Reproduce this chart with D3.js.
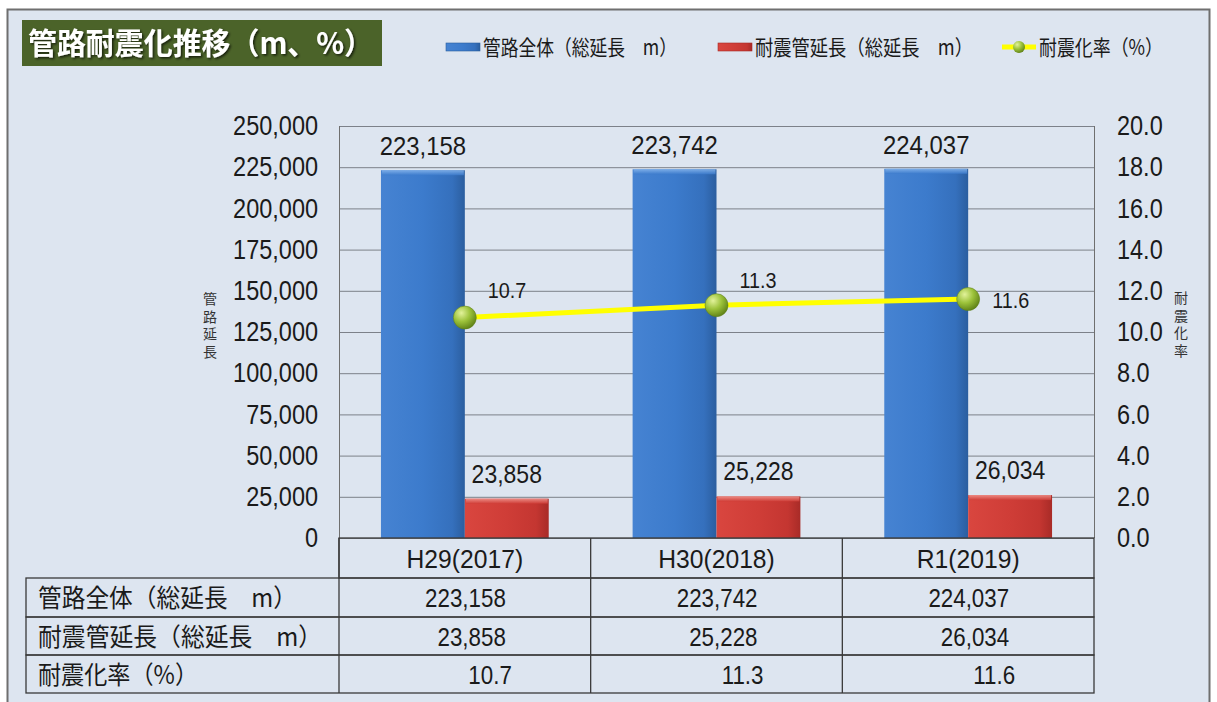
<!DOCTYPE html>
<html><head><meta charset="utf-8">
<script src="https://cdn.jsdelivr.net/npm/d3@7"></script>
<style>
html,body{margin:0;padding:0;background:#fff;}
svg{display:block;}
</style></head>
<body>
<svg id="c" width="1217" height="702"></svg>
<script>
const categories = ["H29(2017)", "H30(2018)", "R1(2019)"];
const totalLength = [223158, 223742, 224037];
const seismicLength = [23858, 25228, 26034];
const seismicRate = [10.7, 11.3, 11.6];
const seriesNames = ["管路全体（総延長　m）", "耐震管延長（総延長　m）", "耐震化率（%）"];
const leftTicks = [0, 25000, 50000, 75000, 100000, 125000, 150000, 175000, 200000, 225000, 250000];
const rightTicks = [0, 2, 4, 6, 8, 10, 12, 14, 16, 18, 20];
const titleText = "管路耐震化推移（m、%）";
const leftAxisTitle = "管路延長";
const rightAxisTitle = "耐震化率";

const NUMF = "'Liberation Sans',Arial,sans-serif";
const JPF = "'Noto Sans CJK JP',sans-serif";
const TXT = "#1a1a1a";
const svg = d3.select("#c");
const defs = svg.append("defs");

function linGrad(id, stops, x2, y2) {
  const g = defs.append("linearGradient").attr("id", id).attr("x1", 0).attr("y1", 0).attr("x2", x2).attr("y2", y2);
  stops.forEach(s => g.append("stop").attr("offset", s[0]).attr("stop-color", s[1]));
}
linGrad("gBlue", [[0, "#4683d2"], [0.5, "#3c7bcc"], [0.85, "#3570bd"], [1, "#2b5e9f"]], 1, 0);
linGrad("gRed", [[0, "#d9463f"], [0.5, "#cf3d37"], [0.85, "#c43631"], [1, "#a82b27"]], 1, 0);
linGrad("gBlueTop", [[0, "#86b5ec"], [1, "#3c7bcc"]], 0, 1);
linGrad("gRedTop", [[0, "#f19790"], [1, "#cf3d37"]], 0, 1);
const rg = defs.append("radialGradient").attr("id", "gDot").attr("cx", 0.35).attr("cy", 0.3).attr("r", 0.75);
rg.append("stop").attr("offset", 0).attr("stop-color", "#e2f29a");
rg.append("stop").attr("offset", 0.5).attr("stop-color", "#9cc23a");
rg.append("stop").attr("offset", 1).attr("stop-color", "#5d7f16");
const sh = defs.append("filter").attr("id", "tshadow").attr("x", -0.1).attr("y", -0.2).attr("width", 1.2).attr("height", 1.4);
sh.append("feDropShadow").attr("dx", 1.5).attr("dy", 1.5).attr("stdDeviation", 0.8).attr("flood-color", "#000").attr("flood-opacity", 0.7);

// condensed text helper
function ctext(parent, x, y, str, o) {
  return parent.append("text")
    .attr("transform", `translate(${x},${y}) scale(${o.sx || 1},1)`)
    .attr("text-anchor", o.anchor || "start")
    .attr("font-family", o.family || NUMF).attr("font-size", o.size).attr("fill", TXT)
    .text(str);
}

// background
svg.append("rect").attr("x", 0).attr("y", 0).attr("width", 1217).attr("height", 702).attr("fill", "#ffffff");
svg.append("rect").attr("x", 7.5).attr("y", 9.5).attr("width", 1202).attr("height", 700)
  .attr("fill", "#dde5f0").attr("stroke", "#6f6f6f").attr("stroke-width", 2);

// title
svg.append("rect").attr("x", 22).attr("y", 20).attr("width", 360).attr("height", 46).attr("fill", "#4b6329");
svg.append("text").attr("x", 28).attr("y", 54).attr("fill", "#ffffff")
  .attr("font-family", JPF).attr("font-size", 30).attr("font-weight", 700)
  .attr("textLength", 345).attr("lengthAdjust", "spacingAndGlyphs")
  .attr("filter", "url(#tshadow)").text(titleText);

// scales
const plotL = 339, plotR = 1094, plotT = 126, plotB = 538;
const x = d3.scaleBand().domain(categories).range([plotL, plotR]).paddingInner(0).paddingOuter(0);
const yL = d3.scaleLinear().domain([0, 250000]).range([plotB, plotT]);
const yR = d3.scaleLinear().domain([0, 20]).range([plotB, plotT]);
const barW = x.bandwidth() / 3;

// grid
svg.append("g").selectAll("line").data(leftTicks).join("line")
  .attr("x1", plotL).attr("x2", plotR).attr("y1", d => yL(d) + 0.5).attr("y2", d => yL(d) + 0.5)
  .attr("stroke", "#7c8189").attr("stroke-width", 1);
svg.append("line").attr("x1", plotL + 0.5).attr("x2", plotL + 0.5).attr("y1", plotT).attr("y2", plotB).attr("stroke", "#6f6f6f");
svg.append("line").attr("x1", plotR + 0.5).attr("x2", plotR + 0.5).attr("y1", plotT).attr("y2", plotB).attr("stroke", "#6f6f6f");

// axes
const tsx = 0.87;
const axL = d3.axisLeft(yL).tickValues(leftTicks).tickSize(0).tickPadding(21).tickFormat(d3.format(","));
const gL = svg.append("g").attr("transform", `translate(${plotL},0)`).call(axL);
gL.select(".domain").remove();
gL.selectAll("text").attr("font-family", NUMF).attr("font-size", 27).attr("fill", TXT)
  .attr("x", -21 / tsx).attr("transform", `scale(${tsx},1)`);
const axR = d3.axisRight(yR).tickValues(rightTicks).tickSize(0).tickPadding(23).tickFormat(d3.format(".1f"));
const gR = svg.append("g").attr("transform", `translate(${plotR},0)`).call(axR);
gR.select(".domain").remove();
gR.selectAll("text").attr("font-family", NUMF).attr("font-size", 27).attr("fill", TXT)
  .attr("x", 23 / tsx).attr("transform", `scale(${tsx},1)`);

// axis titles (vertical)
function vtitle(str, cx, ytop) {
  svg.append("text").attr("x", cx).attr("y", ytop)
    .attr("font-family", JPF).attr("font-size", 14).attr("fill", "#333")
    .style("writing-mode", "vertical-rl").style("letter-spacing", "3.5px")
    .text(str);
}
vtitle(leftAxisTitle, 210, 292);
vtitle(rightAxisTitle, 1181, 291);

// bars
function bar3d(g, x0, w, y0, fill, topFill) {
  const h = plotB - y0;
  g.append("rect").attr("x", x0).attr("y", y0).attr("width", w).attr("height", h).attr("fill", fill);
  g.append("rect").attr("x", x0 + 1).attr("y", y0).attr("width", w - 2).attr("height", Math.min(5, h)).attr("fill", topFill).attr("opacity", 0.85);
}
const gBars = svg.append("g");
categories.forEach((c, i) => {
  const bx = x(c) + barW / 2;
  bar3d(gBars, bx, barW, yL(totalLength[i]), "url(#gBlue)", "url(#gBlueTop)");
  bar3d(gBars, bx + barW, barW, yL(seismicLength[i]), "url(#gRed)", "url(#gRedTop)");
});

// bar labels
const fmt = d3.format(",");
const gLab = svg.append("g");
categories.forEach((c, i) => {
  ctext(gLab, x(c) + barW, yL(totalLength[i]) - 15, fmt(totalLength[i]), { size: 26, sx: 0.92, anchor: "middle" });
  ctext(gLab, x(c) + barW * 2, yL(seismicLength[i]) - 16, fmt(seismicLength[i]), { size: 25, sx: 0.92, anchor: "middle" });
});

// line
const cx = c => x(c) + x.bandwidth() / 2;
const line = d3.line().x((d, i) => cx(categories[i])).y(d => yR(d));
svg.append("path").datum(seismicRate).attr("d", line).attr("fill", "none").attr("stroke", "#ffff00").attr("stroke-width", 5);
svg.append("g").selectAll("circle").data(seismicRate).join("circle")
  .attr("cx", (d, i) => cx(categories[i])).attr("cy", d => yR(d)).attr("r", 11.5)
  .attr("fill", "url(#gDot)").attr("stroke", "#5d7f16").attr("stroke-width", 0.5);
const lblOff = [[23, -20], [23, -17], [24, 9]];
const gRate = svg.append("g");
seismicRate.forEach((d, i) => {
  ctext(gRate, cx(categories[i]) + lblOff[i][0], yR(d) + lblOff[i][1], d.toFixed(1), { size: 22, sx: 0.9 });
});

// data table
const tblL = 26, rowH = [40, 39, 38, 38];
const rowY = [plotB];
rowH.forEach((h, i) => rowY.push(rowY[i] + h));
const tg = svg.append("g").attr("stroke", "#3a3a3a").attr("stroke-width", 1.3).attr("fill", "none");
tg.append("rect").attr("x", plotL).attr("y", rowY[0]).attr("width", plotR - plotL).attr("height", rowH[0]);
for (let r = 1; r <= 3; r++) tg.append("rect").attr("x", tblL).attr("y", rowY[r]).attr("width", plotR - tblL).attr("height", rowH[r]);
categories.forEach((c) => {
  tg.append("line").attr("x1", x(c)).attr("x2", x(c)).attr("y1", rowY[0]).attr("y2", rowY[4]);
});
const gT = svg.append("g");
categories.forEach(c => ctext(gT, cx(c), rowY[0] + 30, c, { size: 26, sx: 0.95, anchor: "middle" }));
const tableRows = [totalLength.map(fmt), seismicLength.map(fmt), seismicRate.map(d => d.toFixed(1))];
const labelLen = [259, 284, 160];
tableRows.forEach((vals, r) => {
  const yb = rowY[r + 1] + 29;
  gT.append("text").attr("x", 38).attr("y", yb).attr("font-family", JPF).attr("font-size", 25).attr("fill", TXT)
    .attr("textLength", labelLen[r]).attr("lengthAdjust", "spacingAndGlyphs").text(seriesNames[r]);
  vals.forEach((v, i) => {
    ctext(gT, cx(categories[i]) + (r === 2 ? 47 : 41), yb, v, { size: 26, sx: 0.86, anchor: "end" });
  });
});

// legend
const lg = svg.append("g");
const legX = [446, 718, 1002];
const legLen = [194, 218, 124];
lg.append("rect").attr("x", legX[0]).attr("y", 43).attr("width", 34).attr("height", 8).attr("fill", "url(#gBlue)").attr("stroke", "#2b5e9f").attr("stroke-width", 0.6);
lg.append("rect").attr("x", legX[1]).attr("y", 43).attr("width", 34).attr("height", 8).attr("fill", "url(#gRed)").attr("stroke", "#a82b27").attr("stroke-width", 0.6);
lg.append("line").attr("x1", legX[2]).attr("x2", legX[2] + 34).attr("y1", 47).attr("y2", 47).attr("stroke", "#ffff00").attr("stroke-width", 5);
lg.append("circle").attr("cx", legX[2] + 17).attr("cy", 47).attr("r", 6).attr("fill", "url(#gDot)");
seriesNames.forEach((s, i) => {
  lg.append("text").attr("x", legX[i] + 37).attr("y", 55).attr("font-family", JPF).attr("font-size", 21).attr("fill", TXT)
    .attr("textLength", legLen[i]).attr("lengthAdjust", "spacingAndGlyphs").text(s);
});
</script>
</body></html>
